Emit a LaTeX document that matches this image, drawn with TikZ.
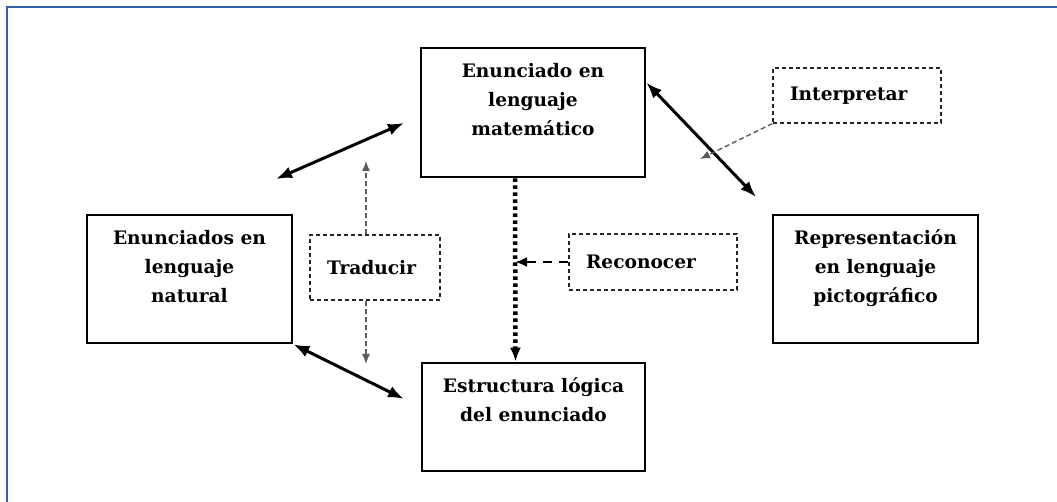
\documentclass[tikz,border=0pt]{standalone}
\usepackage{fontspec}
\setmainfont{DejaVu Serif}
\usetikzlibrary{arrows.meta,positioning}

\definecolor{framecol}{RGB}{46,100,160}
\definecolor{hintgray}{RGB}{90,90,90}

\begin{document}
\begin{tikzpicture}[x=1pt, y=-1pt,
    mainbox/.style={draw, line width=2.6pt, inner sep=0pt},
    boxtext/.style={font=\bfseries\fontsize{18.6}{29}\selectfont, align=center, inner sep=0pt},
    notebox/.style={draw=black!85, dash pattern=on 4pt off 3pt, line width=1.2pt,
        font=\bfseries\fontsize{18.6}{22}\selectfont, align=left, inner xsep=17pt, inner ysep=0pt},
    bothway/.style={{Latex[length=16pt,width=12pt]}-{Latex[length=16pt,width=12pt]}, line width=3pt},
    hint/.style={-{Latex[length=10pt,width=8pt]}, hintgray, line width=1.4pt, dash pattern=on 5pt off 3pt},
    recog/.style={-{Latex[length=12pt,width=10pt]}, line width=2.4pt, dash pattern=on 9pt off 7pt},
    dotline/.style={-{Latex[length=14pt,width=11pt]}, line width=4.5pt, dash pattern=on 3.5pt off 3.5pt}]

    \useasboundingbox (0,0) rectangle (1057,502);

    % Frame
    \draw[framecol, line width=2pt] (7,503) -- (7,7) -- (1058,7);

    % Main boxes
    \node[mainbox, minimum width=224pt, minimum height=129pt] (mat) at (533,112.5) {};
    \node[mainbox, minimum width=205pt, minimum height=128pt] (nat) at (189.5,279) {};
    \node[mainbox, minimum width=205pt, minimum height=128pt] (pic) at (875.5,279) {};
    \node[mainbox, minimum width=223pt, minimum height=108pt] (est) at (533.5,417) {};

    \node[boxtext, below=16pt of mat.north] (mat-text) {Enunciado en\\lenguaje\\matemático};
    \node[boxtext, below=16pt of nat.north] (nat-text) {Enunciados en\\lenguaje\\natural};
    \node[boxtext, below=16pt of pic.north] (pic-text) {Representación\\en lenguaje\\pictográfico};
    \node[boxtext, below=16pt of est.north] (est-text) {Estructura lógica\\del enunciado};

    % Notes
    \node[notebox, text width=96pt, minimum height=65pt] (trad) at (375,267.5) {Traducir};
    \node[notebox, text width=134pt, minimum height=56pt] (rec) at (653,262) {Reconocer};
    \node[notebox, text width=134pt, minimum height=55pt] (inter) at (857,95.5) {Interpretar};

    % Free ends
    \coordinate (nat-up) at (276,179);
    \coordinate (mat-left) at (404,123);
    \coordinate (est-left) at (404,399);
    \coordinate (pic-top) at (756,197);
    \coordinate (trad-up) at (366,161);
    \coordinate (trad-down) at (366,364);
    \coordinate (inter-tip) at (700,159);

    % Thick arrows
    \draw[bothway] (nat-up) -- (mat-left);
    \draw[bothway] (nat.south east) -- (est-left);
    \draw[bothway] ([yshift=30pt]mat.east) -- (pic-top);

    % Hints
    \draw[hint] (trad.north -| trad-up) -- (trad-up);
    \draw[hint] (trad.south -| trad-down) -- (trad-down);
    \draw[hint] (inter.south west) -- (inter-tip);

    % Recognition
    \draw[dotline] ([xshift=-18pt]mat.south) -- ([xshift=-18pt]est.north);
    \draw[recog] (rec.west) -- ([xshift=-18pt]mat.south |- rec.west);
\end{tikzpicture}
\end{document}
